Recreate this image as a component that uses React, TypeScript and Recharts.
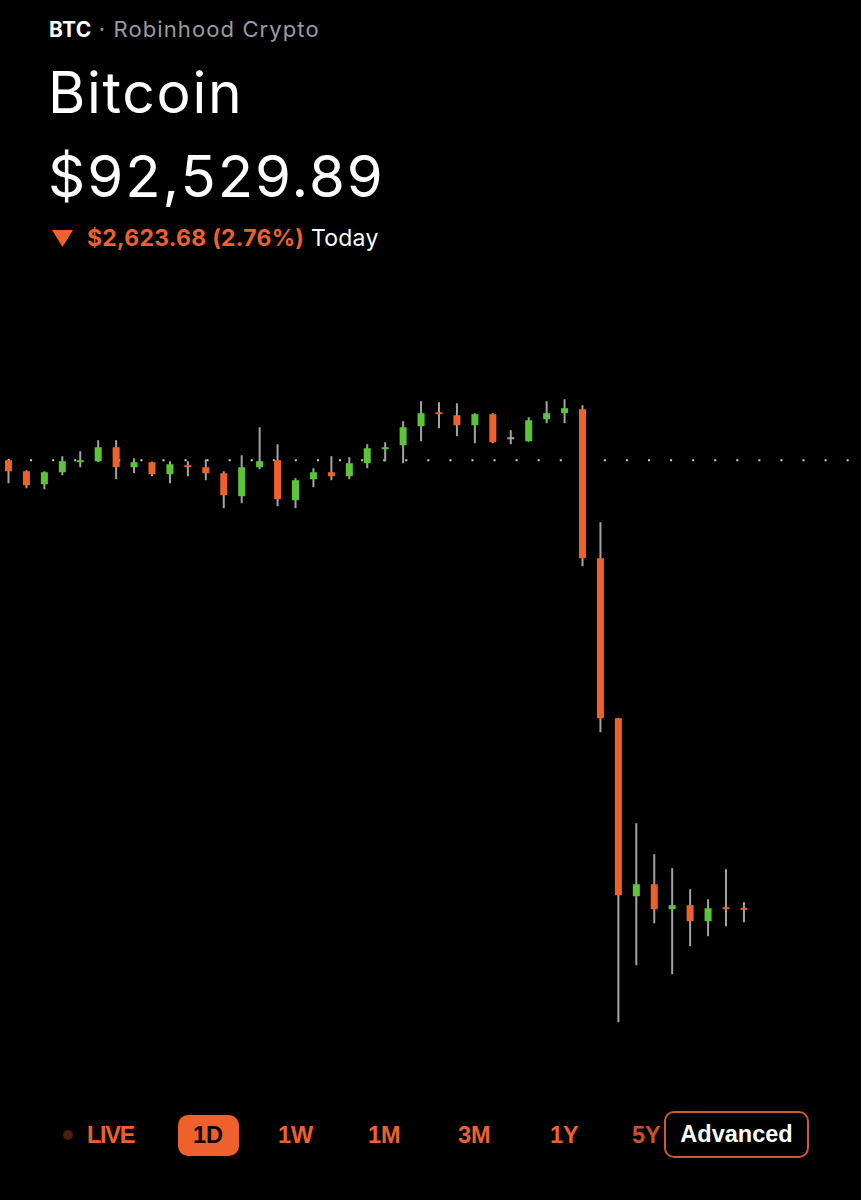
import React from 'react';
import { ComposedChart, Bar, XAxis, YAxis, ReferenceLine } from 'recharts';

// 30-minute candles for the day (48 slots, 42 filled so far)
const opens = [
  95153.6, 95089.2, 95013.0, 95083.3, 95141.9, 95147.7, 95229.7, 95112.6, 95141.9, 95071.6,
  95124.3, 95112.6, 95077.5, 94942.8, 95112.6, 95153.6, 94919.3, 95042.3, 95083.3, 95059.9,
  95136.0, 95223.9, 95241.4, 95352.7, 95434.7, 95417.1, 95358.6, 95423.0, 95288.3, 95264.9,
  95393.7, 95428.9, 95452.3, 94579.7, 93642.6, 92600.2, 92670.4, 92524.1, 92547.5, 92453.7,
  92535.7, 92532.0,
];
const highs = [
  95159.5, 95095.0, 95089.2, 95177.0, 95206.3, 95270.7, 95270.7, 95165.3, 95145.0, 95147.7,
  95147.7, 95159.5, 95089.2, 95182.9, 95346.9, 95247.3, 95048.2, 95106.7, 95177.0, 95171.2,
  95247.3, 95259.0, 95382.0, 95499.1, 95493.3, 95487.4, 95428.9, 95428.9, 95329.3, 95405.4,
  95499.1, 95510.8, 95475.7, 94790.5, 93645.0, 93027.7, 92846.1, 92764.2, 92641.2, 92582.5,
  92758.4, 92565.0,
];
const lows = [
  95018.9, 94989.6, 94983.8, 95065.8, 95112.6, 95141.9, 95042.3, 95077.5, 95059.9, 95018.9,
  95059.9, 95036.5, 94872.5, 94901.8, 95100.9, 94884.2, 94872.5, 94995.5, 95036.5, 95042.3,
  95106.7, 95147.7, 95136.0, 95264.9, 95341.0, 95294.2, 95253.2, 95253.2, 95247.3, 95262.0,
  95370.3, 95370.3, 94532.8, 93560.6, 91862.2, 92196.1, 92442.1, 92143.4, 92307.3, 92365.8,
  92424.5, 92447.9,
];
const closes = [
  95089.2, 95007.2, 95083.3, 95147.7, 95153.6, 95229.7, 95112.6, 95141.9, 95071.6, 95130.2,
  95112.6, 95077.5, 94948.6, 95112.6, 95147.7, 94925.2, 95036.5, 95083.3, 95059.9, 95136.0,
  95223.9, 95229.7, 95346.9, 95428.9, 95423.0, 95358.6, 95423.0, 95259.0, 95288.3, 95387.9,
  95428.9, 95458.1, 94579.7, 93642.6, 92606.0, 92670.4, 92524.1, 92547.5, 92453.7, 92529.9,
  92529.9, 92529.89,
];

const SLOTS = 48;
const prevClose = 95153.57;
const ranges = ['LIVE', '1D', '1W', '1M', '3M', '1Y', '5Y'];
const rangeLefts = [87, 193, 278, 368, 458, 550, 632];

const ORANGE = '#ee602c';
const GREEN = '#5cc438';
const WICK = '#a3a3a3';
const DOMAIN: [number, number] = [91600, 95600];

const data = Array.from({ length: SLOTS }, (_, i) =>
  i < opens.length
    ? { slot: i, open: opens[i], high: highs[i], low: lows[i], close: closes[i], range: [lows[i], highs[i]] }
    : { slot: i, range: null }
);

const Candle = (props: any) => {
  const { x, y, width, height, payload } = props;
  if (!payload || payload.open == null) return null;
  const { open, high, low, close } = payload;
  const cx = x + width / 2;
  const span = high - low || 1;
  const toY = (v: number) => y + ((high - v) / span) * height;
  const color = open === close ? WICK : close > open ? GREEN : ORANGE;
  const top = Math.min(toY(open), toY(close));
  const bodyH = Math.max(2, Math.abs(toY(open) - toY(close)));
  return (
    <g>
      <rect x={cx - 1} y={y} width={2} height={Math.max(height, 1)} fill={WICK} />
      <rect x={cx - 3.5} y={top} width={7} height={bodyH} fill={color} />
    </g>
  );
};

const btnFont = '"Liberation Sans", Arial, sans-serif';
const chartMargin = { top: 0, right: 0, bottom: 0, left: 0 };

export default function App() {
  return (
    <div style={{ position: 'absolute', left: 0, top: 0, width: 861, height: 1200, background: '#000', overflow: 'hidden', fontFamily: 'Inter, sans-serif' }}>
      <div style={{ position: 'absolute', left: 49, top: 19, fontSize: 21, lineHeight: '21px', whiteSpace: 'nowrap' }}>
        <span style={{ fontWeight: 700, color: '#fff', letterSpacing: 0.3 }}>BTC</span>
        <span style={{ color: '#9b9ba1', fontSize: 22, letterSpacing: 1.1 }}> · Robinhood Crypto</span>
      </div>
      <div style={{ position: 'absolute', left: 48, top: 64, fontSize: 57, lineHeight: '57px', color: '#fff', letterSpacing: 1.7 }}>Bitcoin</div>
      <div style={{ position: 'absolute', left: 48, top: 147, fontSize: 58, lineHeight: '58px', color: '#fff', letterSpacing: 2 }}>$92,529.89</div>
      <svg style={{ position: 'absolute', left: 52, top: 230 }} width={22} height={18}>
        <polygon points="0,0 21,0 10.5,17" fill={ORANGE} />
      </svg>
      <div style={{ position: 'absolute', left: 87, top: 227, fontSize: 23, lineHeight: '23px', whiteSpace: 'nowrap', letterSpacing: 0.25 }}>
        <span style={{ fontWeight: 700, color: ORANGE }}>$2,623.68 (2.76%)</span>
        <span style={{ color: '#fff' }}> Today</span>
      </div>

      {/* previous close dots sit under the candles, so they get their own layer */}
      <div style={{ position: 'absolute', left: 0, top: 384 }}>
        <ComposedChart width={861} height={683} data={data} margin={chartMargin}>
          <XAxis dataKey="slot" type="category" hide />
          <YAxis type="number" domain={DOMAIN} allowDataOverflow hide />
          <ReferenceLine y={prevClose} stroke="#cfcfcf" strokeWidth={2} strokeDasharray="2 20.07" strokeDashoffset={-8} />
        </ComposedChart>
      </div>
      <div style={{ position: 'absolute', left: 0, top: 384 }}>
        <ComposedChart width={861} height={683} data={data} margin={chartMargin}>
          <XAxis dataKey="slot" type="category" hide />
          <YAxis type="number" domain={DOMAIN} allowDataOverflow hide />
          <Bar dataKey="range" barSize={7} shape={<Candle />} isAnimationActive={false} />
        </ComposedChart>
      </div>

      {/* range selector */}
      <div style={{ position: 'absolute', left: 63, top: 1130, width: 10, height: 10, borderRadius: 5, background: '#4a1e10' }} />
      <div style={{ position: 'absolute', left: 178, top: 1115, width: 61, height: 41, borderRadius: 10, background: ORANGE }} />
      {ranges.map((r, i) => (
        <div
          key={r}
          style={{
            position: 'absolute', left: rangeLefts[i], top: 1124, fontFamily: btnFont, fontWeight: 700, fontSize: 23.5,
            lineHeight: '23.5px', letterSpacing: r === 'LIVE' ? -1.3 : 0,
            color: r === '1D' ? '#000' : r === '5Y' ? '#c5512a' : ORANGE,
          }}
        >
          {r}
        </div>
      ))}
      <div style={{ position: 'absolute', left: 664, top: 1111, width: 141, height: 43, border: '2px solid #cf5a2e', borderRadius: 10, background: '#000', color: '#fff', fontFamily: btnFont, fontWeight: 700, fontSize: 23.5, lineHeight: '43px', textAlign: 'center' }}>
        Advanced
      </div>
    </div>
  );
}
